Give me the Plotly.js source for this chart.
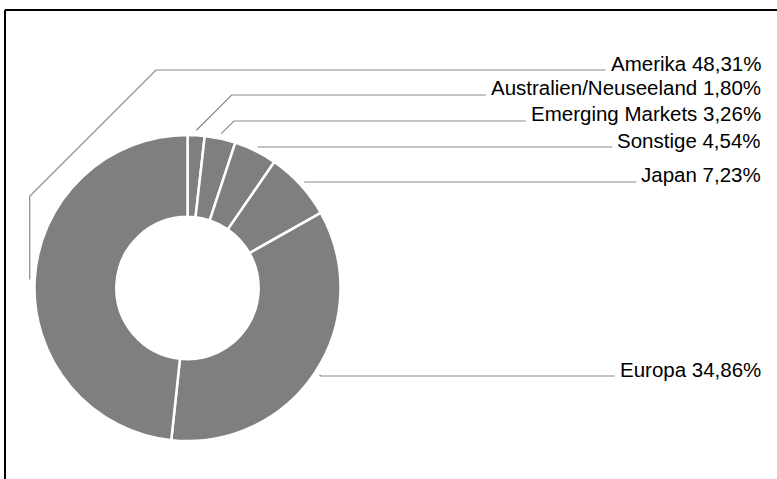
<!DOCTYPE html>
<html>
<head>
<meta charset="utf-8">
<script src="https://cdn.plot.ly/plotly-3.0.1.min.js"></script>
<style>html,body{margin:0;padding:0;background:#fff;}#chart{width:777px;height:479px;}</style>
</head>
<body>
<div id="chart"></div>
<script>
// Data (clockwise from 12 o'clock)
const categories = ['Australien/Neuseeland', 'Emerging Markets', 'Sonstige', 'Japan', 'Europa', 'Amerika'];
const values = [1.80, 3.26, 4.54, 7.23, 34.86, 48.31];

// Label layout (pixel baselines of the outside labels)
const labelBaselineY = [95, 121, 147, 182, 376, 70];
const customElbowX = [null, null, null, null, null, 156];

const W = 777, H = 479;
const CX = 187.5, CY = 288, R = 153;
const FONT_SIZE = 20.5;
const FONT = 'Liberation Sans, Arial, Helvetica, sans-serif';
const TEXT_RIGHT = 763;
const GAP = 7;

const px = x => x / W;
const py = y => 1 - y / H;

function fmt(v) { return v.toFixed(2).replace('.', ',') + '%'; }

const canvas = document.createElement('canvas');
const ctx = canvas.getContext('2d');
ctx.font = FONT_SIZE + 'px "Liberation Sans"';

const total = values.reduce((a, b) => a + b, 0);
let cum = 0;
const shapes = [];
const annotations = [];
values.forEach((v, i) => {
  const mid = (cum + v / 2) / total * 2 * Math.PI;
  cum += v;
  const r0 = R + 5;
  const sx = CX + r0 * Math.sin(mid);
  const sy = CY - r0 * Math.cos(mid);
  const ly = labelBaselineY[i];
  const label = categories[i] + ' ' + fmt(v);
  const tw = ctx.measureText(label).width;
  const endX = TEXT_RIGHT - tw - GAP;
  let pts = [[sx, sy]];
  if (customElbowX[i] !== null) {
    const ex = customElbowX[i];
    const d = ex - sx;
    pts.push([sx, ly + d]);
    pts.push([ex, ly]);
  } else if (Math.abs(sy - ly) > 1) {
    const d = Math.abs(sy - ly);
    pts.push([sx + d, ly]);
  } else {
    pts[0] = [sx, ly];
  }
  pts.push([endX, ly]);
  const path = pts.map((p, k) => (k ? 'L' : 'M') + px(p[0]).toFixed(5) + ',' + py(p[1]).toFixed(5)).join(' ');
  shapes.push({type: 'path', xref: 'paper', yref: 'paper', path: path,
    line: {color: '#8a8a8a', width: 1.2}});
  annotations.push({xref: 'paper', yref: 'paper', x: px(TEXT_RIGHT), y: py(ly - 7),
    xanchor: 'right', yanchor: 'middle', showarrow: false, text: label,
    font: {family: FONT, size: FONT_SIZE, color: '#000'}});
});

// frame lines
shapes.push({type: 'line', xref: 'paper', yref: 'paper', x0: px(5), y0: py(10), x1: px(777), y1: py(10), line: {color: '#000', width: 2}});
shapes.push({type: 'line', xref: 'paper', yref: 'paper', x0: px(5), y0: py(10), x1: px(5), y1: py(479), line: {color: '#000', width: 2}});

const trace = {
  type: 'pie',
  labels: categories,
  values: values,
  sort: false,
  direction: 'clockwise',
  rotation: 0,
  hole: 0.465,
  textinfo: 'none',
  hoverinfo: 'label+percent',
  marker: {colors: values.map(() => '#7f7f7f'), line: {color: '#ffffff', width: 2.5}},
  domain: {x: [px(CX - R), px(CX + R)], y: [py(CY + R), py(CY - R)]},
  showlegend: false
};

const layout = {
  width: W, height: H,
  margin: {l: 0, r: 0, t: 0, b: 0},
  paper_bgcolor: '#fff',
  plot_bgcolor: '#fff',
  showlegend: false,
  shapes: shapes,
  annotations: annotations
};

Plotly.newPlot('chart', [trace], layout, {displayModeBar: false, staticPlot: true});
</script>
</body>
</html>
